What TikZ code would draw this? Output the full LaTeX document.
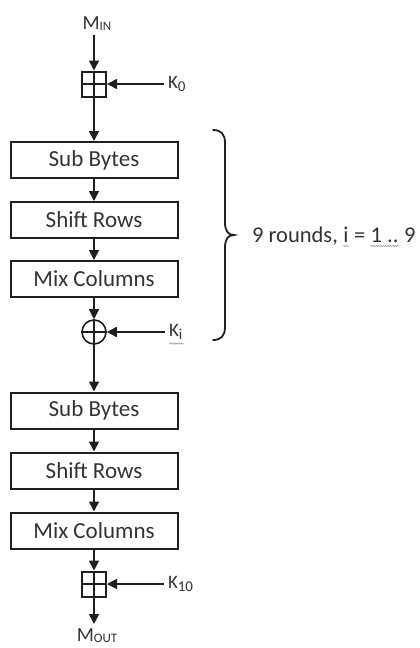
\documentclass[tikz,border=0pt]{standalone}
\usepackage{fontspec}
\setmainfont{Carlito}
\usetikzlibrary{arrows.meta,decorations.pathmorphing}

\definecolor{ink}{gray}{0.12}
\definecolor{txt}{gray}{0.2}
\definecolor{squig}{gray}{0.62}

% small lowered subscripts in the label font
\newcommand{\subIN}{\raisebox{-1pt}{\fontsize{13}{13}\selectfont IN}}
\newcommand{\subOUT}{\raisebox{-1pt}{\fontsize{13}{13}\selectfont OUT}}
\newcommand{\subnum}[1]{\raisebox{-2.5pt}{\fontsize{15}{15}\selectfont #1}}
% a word space that survives at the end of a node text
\newcommand{\gap}{\ \mbox{}}

\tikzset{
  flow/.style={draw=ink, line width=1.6pt, -{Triangle[width=10pt,length=10pt]}},
  stage/.style={draw=ink, line width=2pt, rectangle, minimum width=167pt,
    minimum height=36pt, inner sep=0pt, text=txt, font=\fontsize{23}{26}\selectfont},
  addbox/.style={draw=ink, line width=2pt, rectangle, minimum width=24pt,
    minimum height=25pt, inner sep=0pt},
  xorgate/.style={draw=ink, line width=1.6pt, circle, minimum size=24pt, inner sep=0pt},
  crossline/.style={draw=ink, line width=1.5pt},
  mlabel/.style={inner sep=0pt, outer ysep=5pt, text=txt, font=\fontsize{20}{22}\selectfont},
  klabel/.style={inner sep=0pt, outer xsep=4pt, anchor=west, text=txt, font=\fontsize{19}{21}\selectfont},
  note/.style={inner sep=0pt, anchor=base west, text=txt, font=\fontsize{22.5}{25}\selectfont},
  wavy/.style={draw=squig, line width=0.6pt, decorate,
    decoration={snake, amplitude=0.7pt, segment length=2.4pt}},
  bracepen/.style={draw=ink, line width=1.8pt, line cap=round}
}

\begin{document}
\begin{tikzpicture}[x=1pt,y=-1pt]
\useasboundingbox (0,0) rectangle (420,648);

% input, first key addition
\node[mlabel, anchor=south] (min) at (97,35) {M\subIN};
\node[addbox] (pb0) at (94,84) {};
\draw[crossline] (pb0.north) -- (pb0.south) (pb0.west) -- (pb0.east);
\node[klabel] (k0) at (164,84) {K\subnum{0}};

% repeated round
\node[stage] (sb1) at (94,160) {Sub Bytes};
\node[stage] (sr1) at (94,220) {Shift Rows};
\node[stage] (mc1) at (94,279) {Mix Columns};
\node[xorgate] (xor) at (94,332) {};
\draw[crossline] (xor.north) -- (xor.south) (xor.west) -- (xor.east);
\node[klabel] (ki) at (165,332) {K\subnum{i}};

% final round
\node[stage] (sb2) at (94,410.5) {Sub Bytes};
\node[stage] (sr2) at (94,470.5) {Shift Rows};
\node[stage] (mc2) at (94,530.5) {Mix Columns};
\node[addbox] (pb10) at (94,584) {};
\draw[crossline] (pb10.north) -- (pb10.south) (pb10.west) -- (pb10.east);
\node[klabel] (k10) at (164,584) {K\subnum{10}};
\node[mlabel, anchor=north] (mout) at (97,624) {M\subOUT};

% data path
\draw[flow] (pb0 |- min.south) -- (pb0);
\draw[flow] (pb0) -- (sb1);
\draw[flow] (sb1) -- (sr1);
\draw[flow] (sr1) -- (mc1);
\draw[flow] (mc1) -- (xor);
\draw[flow] (xor) -- (sb2);
\draw[flow] (sb2) -- (sr2);
\draw[flow] (sr2) -- (mc2);
\draw[flow] (mc2) -- (pb10);
\draw[flow] (pb10) -- (pb10 |- mout.north);

% key inputs
\draw[flow] (k0.west) -- (pb0.east);
\draw[flow] (ki.west) -- (xor.east);
\draw[flow] (k10.west) -- (pb10.east);
\draw[wavy] ([xshift=4pt,yshift=-4pt]ki.south west) -- ([xshift=-2pt,yshift=-4pt]ki.south east);

% brace over the repeated rounds
\draw[bracepen] (213,130) .. controls (221,130) and (225,134) .. (225,143)
  -- (225,222) .. controls (225,231) and (228,235) .. (234,235)
  .. controls (228,235) and (225,239) .. (225,248)
  -- (225,327) .. controls (225,336) and (221,340) .. (213,340);

% round count text
\node[note] (t1) at (252,242) {9 rounds,\gap};
\node[note] (t2) at (t1.base east) {i};
\node[note] (t3) at (t2.base east) {\ =\gap};
\node[note] (t4) at (t3.base east) {1 ..};
\node[note] (t5) at (t4.base east) {\ 9};
\draw[wavy] ([yshift=-4pt]t2.base west) -- ([yshift=-4pt]t2.base east);
\draw[wavy] ([yshift=-4pt]t4.base west) -- ([yshift=-4pt]t4.base east);
\end{tikzpicture}
\end{document}
